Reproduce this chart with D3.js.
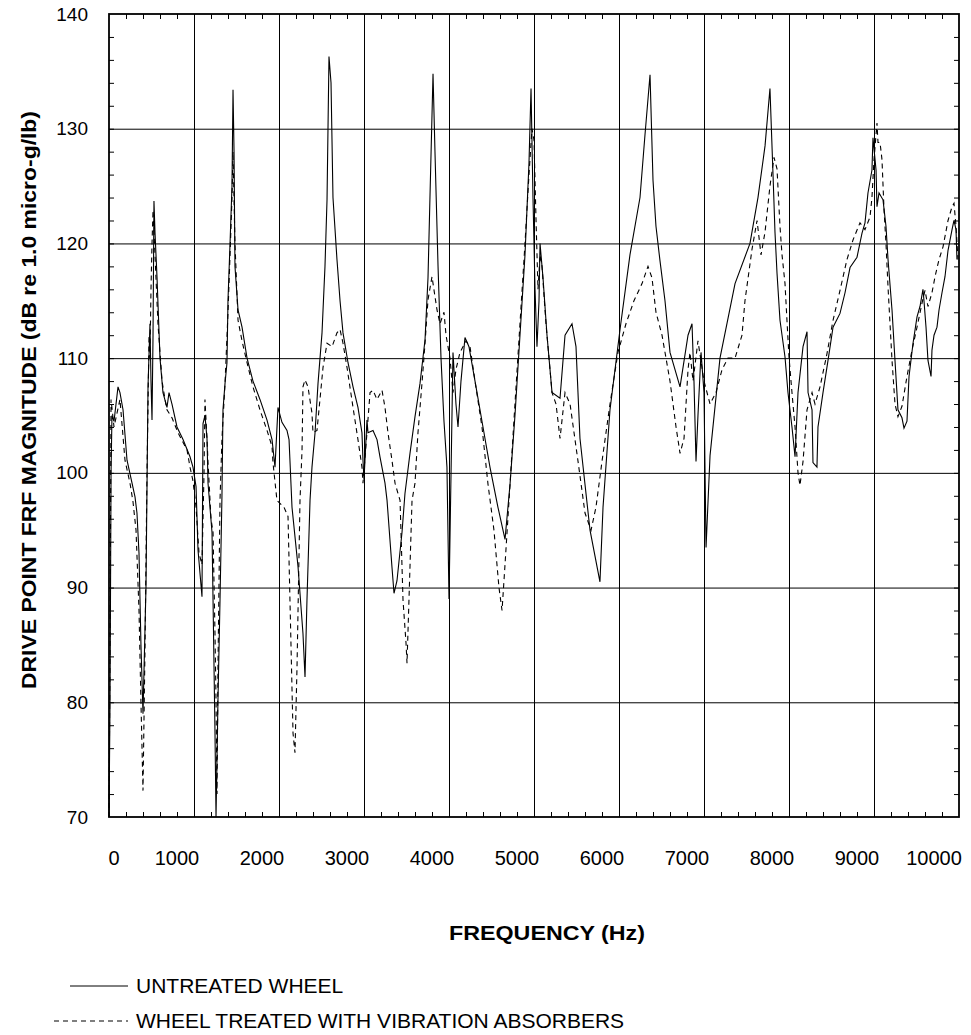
<!DOCTYPE html>
<html>
<head>
<meta charset="utf-8">
<script src="https://d3js.org/d3.v7.min.js"></script>
<style>
body { margin: 0; background: #fff; }
text { font-family: "Liberation Sans", Arial, Helvetica, sans-serif; fill: #000; }
.grid line { stroke: #000; stroke-width: 1; }
.minor line { stroke: #000; stroke-width: 1; }
.curve { fill: none; stroke: #000; stroke-width: 1.1; }
</style>
</head>
<body>
<script>
// untreated wheel (solid line): frequency in Hz, magnitude in dB
var untreatedHz = [200,212,224,235,259,306,329,365,412,471,506,529,553,576,600,635,659,682,694,706,718,729,741,765,800,835,882,906,941,1000,1071,1153,1188,1224,1247,1294,1306,1329,1353,1365,1412,1424,1447,1459,1482,1506,1529,1541,1565,1588,1600,1624,1647,1659,1671,1682,1718,1765,1824,1894,1976,2059,2118,2153,2188,2235,2294,2318,2353,2424,2482,2506,2529,2565,2588,2624,2659,2706,2741,2765,2788,2812,2835,2882,2918,2953,3012,3071,3129,3176,3188,3200,3235,3247,3306,3353,3388,3447,3471,3529,3553,3588,3647,3682,3741,3800,3859,3918,3953,3976,4012,4035,4071,4106,4141,4176,4200,4224,4247,4282,4306,4341,4388,4435,4506,4588,4682,4776,4859,4918,4976,5035,5094,5141,5165,5188,5212,5235,5259,5271,5306,5353,5412,5506,5565,5647,5694,5741,5859,5976,6012,6094,6212,6329,6447,6506,6565,6600,6635,6682,6741,6800,6918,7012,7059,7082,7106,7129,7165,7200,7224,7271,7388,7565,7741,7835,7918,7976,8012,8035,8059,8094,8153,8188,8235,8271,8306,8365,8412,8424,8471,8482,8529,8541,8600,8659,8718,8800,8859,8918,9000,9059,9094,9129,9176,9188,9224,9235,9259,9306,9341,9365,9412,9447,9482,9529,9553,9588,9612,9659,9706,9741,9776,9788,9812,9835,9871,9882,9906,9941,9965,10000,10035,10071,10118,10141,10165,10176,10200];
var untreatedDb = [70,80,100,105,104.5,107.5,107,105.5,101.1,99.1,97.9,96.5,93,85,79,90,107.5,113,108,104.6,112,123.7,121,117,110,107,105.7,107,106,104,102.9,101.4,100.5,98.8,93.3,89.2,104.3,105,103,99.1,94.8,88.9,77.3,70,80.2,88.9,98,105.5,107.8,109.6,115.1,120,125,133.4,128,118,114.2,112.7,110,108,106.4,104.6,102.9,100.5,105.7,104.4,103.7,102.9,97,91.8,86,82.2,88.9,97.6,100.5,103.5,107.8,112.2,118,123.8,136.3,134,124,118.6,115,112.2,109.6,107.5,105.7,103.5,101.1,99.4,104.6,103.5,103.7,102.9,101.4,99.1,97.6,91.8,89.5,90.6,94.8,98.2,101.7,104.9,107.8,111.6,117,124,134.8,128,118,110,104.5,100.5,89,100,110.5,106,104,108,111.8,111,108,104.5,100.5,97,94.2,99,105,112,119,127,133.5,124,116,111,115,120,117,112,107,106.5,112,113,111,103,95,90.5,97,105.5,112.5,119,124,129.5,134.7,125.5,121.5,118.5,115,110.5,107.5,112,113,108,101,105,110.5,107,93.5,101.5,110,116.5,120,124,128.5,133.5,126,121,117.4,113.3,110.1,107,104,101.4,107,111,112.3,107,105.5,100.9,100.5,104,107,109.8,112.7,113.9,115.7,117.9,118.8,120.9,121.8,124.4,126.4,129.2,126.4,123.2,124.4,123.8,121.5,118.6,114.2,109.8,105.5,104.8,103.9,104.5,108.4,111.3,113.6,114.5,116,115,112.7,109.8,108.4,110.7,112,112.7,114.2,115.7,117.1,119.4,121.2,122,121.2,118.6];

// wheel treated with vibration absorbers (dashed line)
var treatedHz = [200,212,224,259,294,329,388,447,482,518,553,576,600,624,647,671,682,694,706,718,741,776,824,859,882,941,1012,1118,1153,1188,1224,1259,1294,1318,1329,1353,1365,1400,1424,1447,1459,1471,1482,1506,1529,1565,1600,1624,1647,1659,1682,1718,1765,1824,1894,1976,2059,2118,2129,2176,2259,2306,2329,2365,2388,2412,2447,2471,2482,2506,2541,2588,2600,2647,2682,2718,2765,2824,2882,2918,2953,3000,3071,3129,3176,3188,3235,3271,3306,3353,3412,3447,3482,3529,3565,3624,3659,3694,3706,3741,3765,3800,3835,3882,3918,3953,4000,4059,4094,4141,4165,4212,4247,4282,4329,4400,4447,4506,4588,4659,4729,4788,4824,4859,4918,4976,5035,5094,5141,5176,5200,5224,5247,5271,5294,5341,5412,5459,5506,5565,5624,5718,5800,5871,5929,6000,6094,6188,6282,6376,6471,6541,6588,6635,6706,6800,6871,6918,6965,7012,7035,7071,7129,7200,7271,7341,7412,7482,7565,7647,7682,7765,7824,7871,7918,7976,8024,8059,8094,8118,8153,8176,8200,8235,8271,8306,8329,8365,8412,8471,8506,8565,8647,8718,8800,8882,8953,9035,9094,9153,9176,9200,9235,9247,9271,9294,9318,9341,9365,9412,9447,9482,9529,9588,9647,9706,9765,9800,9835,9882,9918,9965,10012,10071,10118,10141,10165,10188];
var treatedDb = [70,85,106.4,104,105.2,106.4,101.1,99.1,97.5,95,88,80,72.3,85,100,112,110,116,120,122.9,119,113,108,106.4,105.5,104.8,103.5,102,100.5,99.3,97,93,92,100,106.4,103,100.9,96,94.8,86,80.2,72,83,97.6,103,107.8,114,119,124,128,120,113.3,111.5,109.6,107.5,105.5,103.7,102.3,100.9,97.6,97,96.2,88.9,77.3,75.6,83.1,97.6,102,107.5,108.1,107.5,105.2,103.5,103.7,106.4,109.2,111.3,111,112.2,112.5,111.3,109.2,105.7,102.9,100.5,99.1,103.5,107,107.2,106.4,107.2,105.7,103.5,101.1,99.1,97.6,88.9,85.2,83.4,91.8,97.6,99.1,103.5,107.8,111.3,115.1,117.1,114.2,113,114,112,110,107,109,110.5,111.5,111,108,104,99,95,90,88,92,99,106,113,120,126,130,129,122,116,119,118,113,107,106,103,107,106,101,96.5,95,97,101,106,110.5,113,115,116.5,118,117,114,112,108,104,101.7,103,109,110.5,108,111.5,108,106,107,109,110,110,112,115,119.5,122,119,121,125,127.5,126.5,121.5,119,116.5,113.3,110.1,107,104,100,98.9,101,105.5,107,106,107.5,110.4,113.3,115.9,118.6,120.3,121.8,121.2,122.3,124,127.3,130.5,128.8,128.8,127.3,122.9,120,116.2,109.8,106,104.9,105.8,108.4,110.7,112.7,114.8,115.9,114.5,115.7,117.1,118.6,119.7,122,123.2,123.5,121.5,118.6];

var xLabels = [0,1000,2000,3000,4000,5000,6000,7000,8000,9000,10000];
var yLabels = [70,80,90,100,110,120,130,140];
var xGrid = [1200,2200,3200,4200,5200,6200,7200,8200,9200];
var yGrid = [80,90,100,110,120,130];
var legendNames = ["UNTREATED WHEEL", "WHEEL TREATED WITH VIBRATION ABSORBERS"];

var W = 971, H = 1035;
var margin = {top: 14, right: 12, bottom: 218, left: 109},
    width = W - margin.left - margin.right,
    height = H - margin.top - margin.bottom;

var svg = d3.select("body").append("svg")
    .attr("width", W)
    .attr("height", H);

var g = svg.append("g")
    .attr("transform", "translate(" + margin.left + "," + margin.top + ")");

var x = d3.scaleLinear().domain([200, 10200]).range([0, width]);
var y = d3.scaleLinear().domain([70, 140]).range([height, 0]);

function noDomain(s) { s.select(".domain").remove(); }

// grid lines
g.append("g").attr("class", "grid")
    .attr("transform", "translate(0," + height + ")")
    .call(d3.axisBottom(x).tickValues(xGrid).tickSize(-height).tickFormat(""))
    .call(noDomain);
g.append("g").attr("class", "grid")
    .call(d3.axisLeft(y).tickValues(yGrid).tickSize(-width).tickFormat(""))
    .call(noDomain);

// small inward ticks on all four sides
var xMinor = d3.range(400, 10200, 200);
var yMinor = d3.range(72, 140, 2);
g.append("g").attr("class", "minor")
    .attr("transform", "translate(0," + height + ")")
    .call(d3.axisBottom(x).tickValues(xMinor).tickSize(-5).tickFormat("")).call(noDomain);
g.append("g").attr("class", "minor")
    .call(d3.axisTop(x).tickValues(xMinor).tickSize(-5).tickFormat("")).call(noDomain);
g.append("g").attr("class", "minor")
    .call(d3.axisLeft(y).tickValues(yMinor).tickSize(-5).tickFormat("")).call(noDomain);
g.append("g").attr("class", "minor")
    .attr("transform", "translate(" + width + ",0)")
    .call(d3.axisRight(y).tickValues(yMinor).tickSize(-5).tickFormat("")).call(noDomain);

// curves
var line = d3.line()
    .x(function(d) { return x(d[0]); })
    .y(function(d) { return y(d[1]); });

g.append("path")
    .datum(d3.zip(untreatedHz, untreatedDb))
    .attr("class", "curve")
    .attr("d", line);

g.append("path")
    .datum(d3.zip(treatedHz, treatedDb))
    .attr("class", "curve")
    .style("stroke-dasharray", "5,4")
    .attr("d", line);

// frame
g.append("rect")
    .attr("width", width)
    .attr("height", height)
    .style("fill", "none")
    .style("stroke", "#000")
    .style("stroke-width", 1.8);

// y tick labels
g.append("g")
    .call(d3.axisLeft(y).tickValues(yLabels).tickSize(0).tickPadding(21))
    .call(noDomain)
    .selectAll("text")
    .style("font-size", "19px");

// x tick labels (end labels kept inside the frame, as in the original)
g.selectAll(".xlab")
    .data(xLabels)
  .enter().append("text")
    .attr("class", "xlab")
    .attr("x", function(d) { return Math.max(5, Math.min(width - 25, x(d))); })
    .attr("y", height + 48)
    .style("text-anchor", "middle")
    .style("font-size", "20px")
    .text(function(d) { return d; });

// axis titles
svg.append("text")
    .attr("transform", "translate(" + 36 + "," + 400 + ") rotate(-90)")
    .style("text-anchor", "middle")
    .style("font-size", "20px")
    .style("font-weight", "bold")
    .attr("textLength", 578)
    .attr("lengthAdjust", "spacingAndGlyphs")
    .text("DRIVE POINT FRF MAGNITUDE (dB re 1.0 micro-g/lb)");

svg.append("text")
    .attr("x", 547)
    .attr("y", 940)
    .style("text-anchor", "middle")
    .style("font-size", "20px")
    .style("font-weight", "bold")
    .attr("textLength", 196)
    .attr("lengthAdjust", "spacingAndGlyphs")
    .text("FREQUENCY (Hz)");

// legend
var legend = svg.append("g");
legend.append("line")
    .attr("x1", 70).attr("x2", 128).attr("y1", 986).attr("y2", 986)
    .style("stroke", "#000").style("stroke-width", 1);
legend.append("line")
    .attr("x1", 54).attr("x2", 128).attr("y1", 1021).attr("y2", 1021)
    .style("stroke", "#000").style("stroke-width", 1.1)
    .style("stroke-dasharray", "5,4");
legend.selectAll(".ltxt")
    .data(legendNames)
  .enter().append("text")
    .attr("x", 136)
    .attr("y", function(d, i) { return 993 + i * 35; })
    .style("font-size", "21px")
    .text(function(d) { return d; });
</script>
</body>
</html>
